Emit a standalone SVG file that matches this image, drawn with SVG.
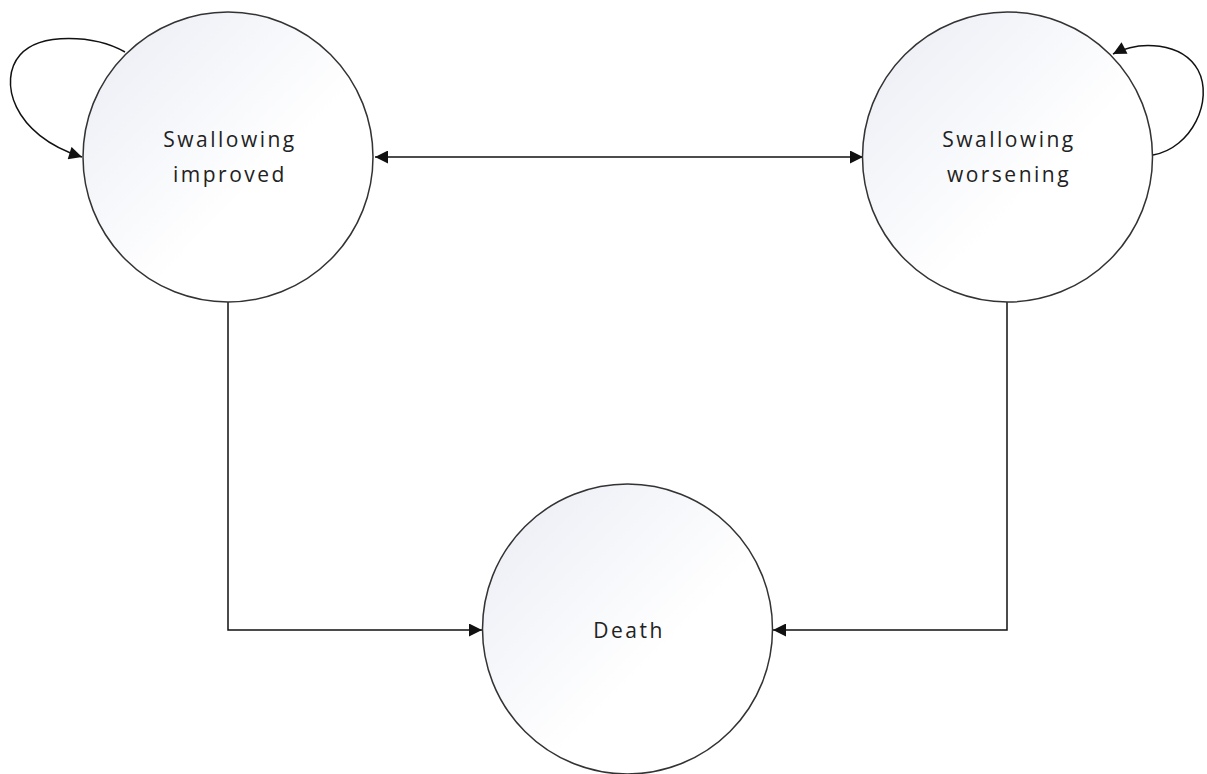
<svg xmlns="http://www.w3.org/2000/svg" width="1207" height="774" viewBox="0 0 1207 774">
<style>
.node{fill:url(#g);stroke:#333;stroke-width:1.5}
.lbl{font-family:"Open Sans",sans-serif;font-size:21px;fill:#222;text-anchor:middle;letter-spacing:2.5px}
.edge{fill:none;stroke:#111;stroke-width:1.5}
</style>
<defs>
<linearGradient id="g" x1="0" y1="0" x2="1" y2="1">
<stop offset="0" stop-color="#e9ecf4"/>
<stop offset="0.6" stop-color="#ffffff"/>
</linearGradient>
<marker id="a" viewBox="0 0 10 10" refX="10" refY="5" markerWidth="14" markerHeight="13" markerUnits="userSpaceOnUse" orient="auto-start-reverse">
<path d="M0,0 L10,5 L0,10 z" fill="#111"/>
</marker>
</defs>
<rect width="1207" height="774" fill="#fff"/>
<g id="connectors">
<path class="edge" d="M375,157 L863,157" marker-start="url(#a)" marker-end="url(#a)"/>
<path class="edge" d="M228,302 L228,630 L482,630" marker-end="url(#a)"/>
<path class="edge" d="M1007,302 L1007,630 L773,630" marker-end="url(#a)"/>
<path class="edge" d="M125,52 C95,35 40,32 20,55 C-2,80 12,135 82,157" marker-end="url(#a)"/>
<path class="edge" d="M1153,155 C1192,148 1214,100 1198,70 C1182,42 1140,40 1113,54" marker-end="url(#a)"/>
</g>
<g id="node-improved">
<circle class="node" cx="228" cy="157" r="145"/>
<text class="lbl" x="230" y="147">Swallowing</text>
<text class="lbl" x="230" y="182">improved</text>
</g>
<g id="node-worsening">
<circle class="node" cx="1007.5" cy="157" r="145"/>
<text class="lbl" x="1009" y="147">Swallowing</text>
<text class="lbl" x="1009" y="182">worsening</text>
</g>
<g id="node-death">
<circle class="node" cx="627.5" cy="629" r="145"/>
<text class="lbl" x="629" y="638">Death</text>
</g>
</svg>
